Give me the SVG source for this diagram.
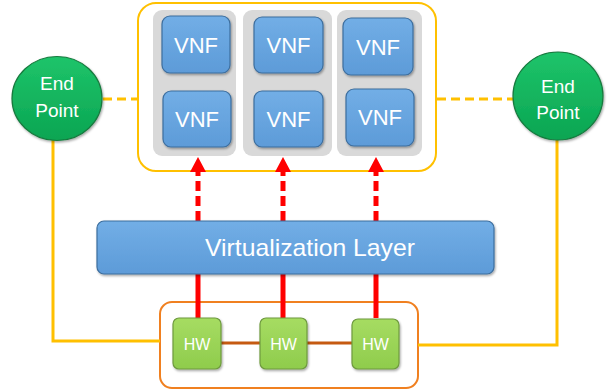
<svg xmlns="http://www.w3.org/2000/svg" width="610" height="392" viewBox="0 0 610 392">
<defs>
<linearGradient id="gBlue" x1="0" y1="0" x2="0" y2="1"><stop offset="0" stop-color="#72aee6"/><stop offset="1" stop-color="#5d9bd8"/></linearGradient>
<linearGradient id="gGreen" x1="0" y1="0" x2="0" y2="1"><stop offset="0" stop-color="#1ec46a"/><stop offset="1" stop-color="#0aa552"/></linearGradient>
<linearGradient id="gHw" x1="0" y1="0" x2="0" y2="1"><stop offset="0" stop-color="#a6dc62"/><stop offset="1" stop-color="#8fcc4c"/></linearGradient>
<filter id="sh" x="-10%" y="-10%" width="125%" height="130%"><feDropShadow dx="1" dy="1.5" stdDeviation="1" flood-color="#000" flood-opacity="0.35"/></filter>
<marker id="ah" viewBox="0 0 15 16" refX="0" refY="8" markerWidth="15" markerHeight="16" markerUnits="userSpaceOnUse" orient="auto"><path d="M0,0 L15,8 L0,16 Z" fill="#ff0000"/></marker>
</defs>
<style>
.vnf{fill:url(#gBlue);stroke:#3d6e9e;stroke-width:1.2;filter:url(#sh)}
.panel{fill:#d9d9d9}
.ep{fill:url(#gGreen);stroke:#157a3e;stroke-width:1.2;filter:url(#sh)}
.hw{fill:url(#gHw);stroke:#6e9a3e;stroke-width:1.2;filter:url(#sh)}
.t{font-family:"Liberation Sans",Arial,sans-serif;fill:#ffffff;text-anchor:middle}
.yel{stroke:#ffc000;stroke-width:3;fill:none}
.red{stroke:#ff0000;stroke-width:5;fill:none}
.dash{stroke-dasharray:10 5}
</style>
<g id="vnf-container"><rect x="138" y="3" width="298" height="168" rx="18" fill="#ffffff" stroke="#ffc000" stroke-width="2"/></g>
<g id="panel1"><rect class="panel" x="153" y="10" width="83" height="146" rx="9"/></g>
<g id="panel2"><rect class="panel" x="243" y="10" width="89" height="146" rx="9"/></g>
<g id="panel3"><rect class="panel" x="337" y="10" width="85" height="146" rx="9"/></g>
<g id="vnf1"><rect class="vnf" x="162" y="16" width="68" height="57" rx="8"/><text class="t" x="196" y="53" font-size="22">VNF</text></g>
<g id="vnf2"><rect class="vnf" x="163" y="91" width="68" height="56" rx="8"/><text class="t" x="197" y="127" font-size="22">VNF</text></g>
<g id="vnf3"><rect class="vnf" x="254" y="17" width="69" height="56" rx="8"/><text class="t" x="288.5" y="53" font-size="22">VNF</text></g>
<g id="vnf4"><rect class="vnf" x="254" y="91" width="69" height="56" rx="8"/><text class="t" x="288.5" y="127" font-size="22">VNF</text></g>
<g id="vnf5"><rect class="vnf" x="343" y="18" width="70" height="57" rx="8"/><text class="t" x="378" y="55" font-size="22">VNF</text></g>
<g id="vnf6"><rect class="vnf" x="346" y="89" width="68" height="57" rx="8"/><text class="t" x="380" y="125" font-size="22">VNF</text></g>
<g id="hw-container"><rect x="160" y="302" width="258" height="86" rx="12" fill="none" stroke="#f08020" stroke-width="2"/></g>
<g id="connectors">
<path class="yel" d="M53,140 V341 H160"/>
<path class="yel" d="M557,140 V345 H418"/>
<path class="yel" d="M103,99 H137" stroke-dasharray="9 5"/>
<path class="yel" d="M437,99 H513" stroke-dasharray="9 5"/>
<path class="red" d="M198,274 V318 M283,274 V318 M376,274 V318"/>
<path class="red dash" d="M198,221 V172" marker-end="url(#ah)"/>
<path class="red dash" d="M283,221 V172" marker-end="url(#ah)"/>
<path class="red dash" d="M376,221 V172" marker-end="url(#ah)"/>
<path d="M221,343 H260 M307,343 H352" stroke="#c55a11" stroke-width="3"/>
</g>
<g id="endpoint-left"><ellipse class="ep" cx="57" cy="98.5" rx="45" ry="42"/><text class="t" x="57" y="90" font-size="19">End</text><text class="t" x="57" y="117" font-size="19">Point</text></g>
<g id="endpoint-right"><ellipse class="ep" cx="558" cy="96" rx="45" ry="44"/><text class="t" x="558" y="93" font-size="19">End</text><text class="t" x="558" y="119" font-size="19">Point</text></g>
<g id="virtualization-layer"><rect x="97" y="221" width="397" height="53" rx="7" fill="url(#gBlue)" stroke="#3d6e9e" stroke-width="1.2" filter="url(#sh)"/><text class="t" x="205" y="256" font-size="24" textLength="210" lengthAdjust="spacingAndGlyphs" style="text-anchor:start">Virtualization Layer</text></g>
<g id="hw1"><rect class="hw" x="173" y="318" width="48" height="51" rx="6"/><text class="t" x="197" y="350" font-size="16">HW</text></g>
<g id="hw2"><rect class="hw" x="260" y="318" width="47" height="51" rx="6"/><text class="t" x="283.5" y="350" font-size="16">HW</text></g>
<g id="hw3"><rect class="hw" x="352" y="319" width="47" height="50" rx="6"/><text class="t" x="375.5" y="350" font-size="16">HW</text></g>
</svg>
